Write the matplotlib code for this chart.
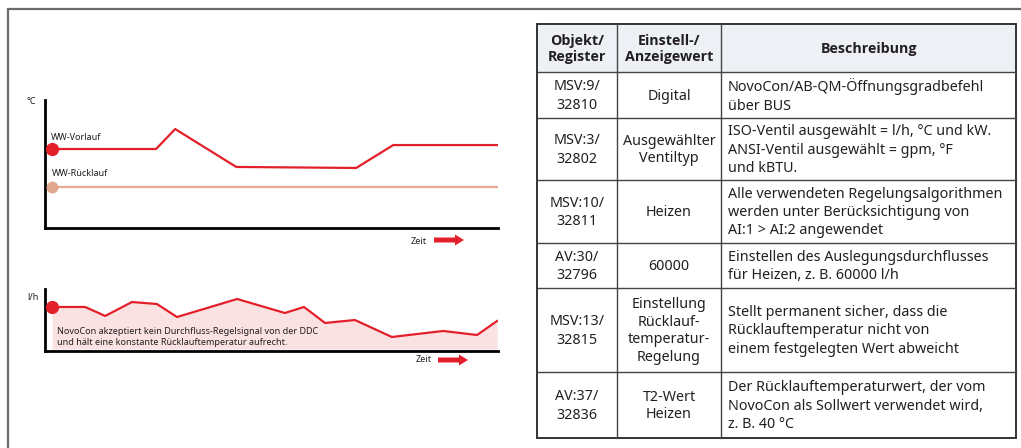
import matplotlib.pyplot as plt
from matplotlib.patches import FancyArrow, Rectangle

plt.rcParams['font.family'] = ['Noto Sans', 'DejaVu Sans']

# Diagramm oben: Temperaturen über Zeit
t_vorlauf = [0, 23.3, 27.6, 41.3, 68.2, 76.5, 100]
vorlauf = [61.7, 61.7, 77.3, 47.7, 46.9, 64.8, 64.8]
t_ruecklauf = [0, 100]
ruecklauf = [32, 32]

# Diagramm unten: Durchfluss über Zeit
t_fluss = [0, 7.4, 11.9, 17.9, 23.5, 28, 41.5, 52.2, 56.5, 61.2, 67.9, 76.2, 87.7, 95.3, 99.8]
fluss = [71, 71, 56.5, 79, 75.8, 54.8, 83.9, 61.3, 71, 45.2, 50, 22.6, 32.3, 25.8, 48.4]

hinweis = 'NovoCon akzeptiert kein Durchfluss-Regelsignal von der DDC\nund hält eine konstante Rücklauftemperatur aufrecht.'

# Tabelle
kopf = ['Objekt/\nRegister', 'Einstell-/\nAnzeigewert', 'Beschreibung']
spalte_objekt = ['MSV:9/\n32810', 'MSV:3/\n32802', 'MSV:10/\n32811', 'AV:30/\n32796',
                 'MSV:13/\n32815', 'AV:37/\n32836']
spalte_wert = ['Digital', 'Ausgewählter\nVentiltyp', 'Heizen', '60000',
               'Einstellung\nRücklauf-\ntemperatur-\nRegelung', 'T2-Wert\nHeizen']
spalte_text = ['NovoCon/AB-QM-Öffnungsgradbefehl\nüber BUS',
               'ISO-Ventil ausgewählt = l/h, °C und kW.\nANSI-Ventil ausgewählt = gpm, °F\nund kBTU.',
               'Alle verwendeten Regelungsalgorithmen\nwerden unter Berücksichtigung von\nAI:1 > AI:2 angewendet',
               'Einstellen des Auslegungsdurchflusses\nfür Heizen, z. B. 60000 l/h',
               'Stellt permanent sicher, dass die\nRücklauftemperatur nicht von\neinem festgelegten Wert abweicht',
               'Der Rücklauftemperaturwert, der vom\nNovoCon als Sollwert verwendet wird,\nz. B. 40 °C']

W, H = 1021, 448
ROT = '#e3202a'
TXT = '#231f20'
fig = plt.figure(figsize=(W / 100, H / 100), dpi=100)

# Hintergrund-Ebene in Pixelkoordinaten
bg = fig.add_axes([0, 0, 1, 1])
bg.set_xlim(0, W)
bg.set_ylim(H, 0)
bg.axis('off')
bg.plot([8, 8, W], [H, 9, 9], color='#6a6a6a', lw=1.6, solid_joinstyle='miter')


def px_axes(x0, y0, x1, y1):
    return fig.add_axes([x0 / W, 1 - y1 / H, (x1 - x0) / W, (y1 - y0) / H])


def stil(ax):
    for s in ['top', 'right']:
        ax.spines[s].set_visible(False)
    for s in ['left', 'bottom']:
        ax.spines[s].set_linewidth(2.0)
        ax.spines[s].set_color('black')
    ax.set_xticks([])
    ax.set_yticks([])
    ax.patch.set_alpha(0)


klein = dict(fontsize=6.5, va='center', ha='left', color=TXT)

# oberes Diagramm
ax1 = px_axes(45, 100, 498, 228)
stil(ax1)
ax1.set_xlim(-1.6, 100)
ax1.set_ylim(0, 100)
ax1.plot(t_ruecklauf, ruecklauf, color='#e8aa94', lw=1.6, zorder=2)
ax1.plot(t_ruecklauf[0], ruecklauf[0], 'o', color='#e2a88e', ms=7.5, clip_on=False, zorder=3)
ax1.plot(t_vorlauf, vorlauf, color=ROT, lw=1.6, zorder=2)
ax1.plot(t_vorlauf[0], vorlauf[0], 'o', color=ROT, ms=8.5, clip_on=False, zorder=3)
bg.text(26, 102, '°C', **klein)
bg.text(51, 137, 'WW-Vorlauf', **klein)
bg.text(52, 174, 'WW-Rücklauf', **klein)
bg.text(411, 241, 'Zeit', **klein)
bg.add_patch(FancyArrow(434, 240, 30, 0, width=5, head_width=11, head_length=9,
                        length_includes_head=True, color=ROT, lw=0))

# unteres Diagramm
ax2 = px_axes(45, 289, 498, 351)
stil(ax2)
ax2.set_xlim(-1.6, 100)
ax2.set_ylim(0, 100)
ax2.fill_between(t_fluss, fluss, 3, color='#fbe2e2', lw=0, zorder=1)
ax2.plot(t_fluss, fluss, color=ROT, lw=1.6, zorder=2)
ax2.plot(t_fluss[0], fluss[0], 'o', color=ROT, ms=8.5, clip_on=False, zorder=3)
ax2.text(57, 337, hinweis, transform=bg.transData, clip_on=False, zorder=4,
         linespacing=1.15, **klein)
bg.text(27, 298, 'l/h', **klein)
bg.text(416, 360, 'Zeit', **klein)
bg.add_patch(FancyArrow(438, 360, 30, 0, width=5, head_width=11, head_length=9,
                        length_includes_head=True, color=ROT, lw=0))

# Tabelle
spalten = [537, 617, 721, 1016]
zeilen = [24, 72, 118, 180, 243, 288, 372, 438]
bg.add_patch(Rectangle((spalten[0], zeilen[0]), spalten[-1] - spalten[0], zeilen[1] - zeilen[0],
                       facecolor='#edf1f5', edgecolor='none', zorder=0))
for x in spalten[1:-1]:
    bg.plot([x, x], [zeilen[0], zeilen[-1]], color='#444444', lw=1.0)
for y in zeilen[1:-1]:
    bg.plot([spalten[0], spalten[-1]], [y, y], color='#444444', lw=1.0)
bg.add_patch(Rectangle((spalten[0], zeilen[0]), spalten[-1] - spalten[0], zeilen[-1] - zeilen[0],
                       facecolor='none', edgecolor='#333333', lw=1.4))

fs = 10.3
for i, k in enumerate(kopf):
    xm = (spalten[i] + spalten[i + 1]) / 2
    bg.text(xm, (zeilen[0] + zeilen[1]) / 2 + 1, k, fontsize=10.3, fontweight='bold',
            family=['Open Sans', 'DejaVu Sans'],
            ha='center', va='center', linespacing=1.25, color=TXT)
for r in range(len(spalte_objekt)):
    ym = (zeilen[r + 1] + zeilen[r + 2]) / 2 + 1
    bg.text((spalten[0] + spalten[1]) / 2, ym, spalte_objekt[r], fontsize=fs,
            ha='center', va='center', linespacing=1.28, color=TXT)
    bg.text((spalten[1] + spalten[2]) / 2, ym, spalte_wert[r], fontsize=fs,
            ha='center', va='center', linespacing=1.25, color=TXT)
    bg.text(spalten[2] + 7, ym, spalte_text[r], fontsize=fs,
            ha='left', va='center', linespacing=1.28, color=TXT)

fig.savefig('out.png', dpi=100)
